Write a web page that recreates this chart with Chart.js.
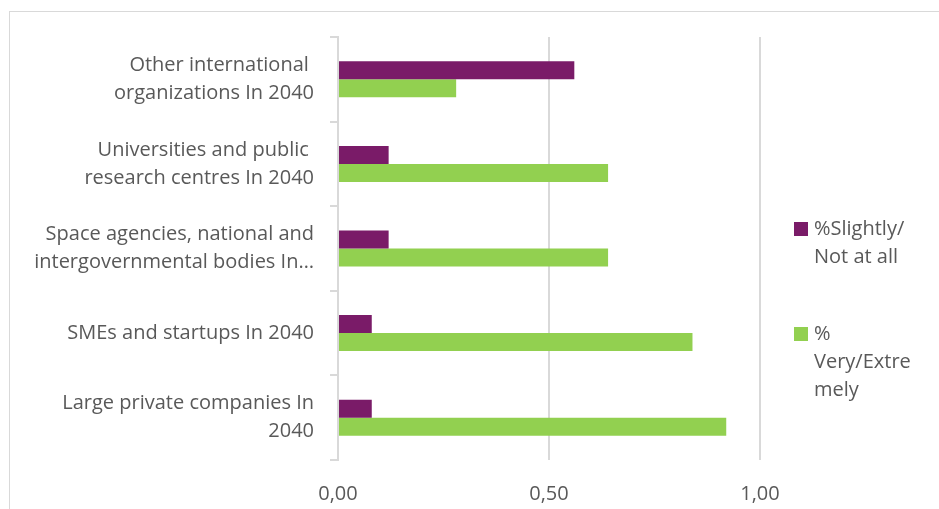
<!DOCTYPE html>
<html>
<head>
<meta charset="utf-8">
<script src="https://cdn.jsdelivr.net/npm/chart.js@4.4.1/dist/chart.umd.min.js"></script>
<style>
  html, body { margin: 0; padding: 0; background: #fff; }
  #wrap { position: relative; width: 939px; height: 509px; overflow: hidden; }
  #frame { position: absolute; left: 9px; top: 11px; width: 960px; height: 520px;
           border-top: 1px solid #d9d9d9; border-left: 1px solid #d9d9d9; }
  canvas { position: absolute; left: 0; top: 0; }
</style>
</head>
<body>
<div id="wrap">
  <div id="frame"></div>
  <canvas id="chart" width="939" height="509"></canvas>
</div>
<script>
const categories = [
  ["Other international ", "organizations In 2040"],
  ["Universities and public ", "research centres In 2040"],
  ["Space agencies, national and", "intergovernmental bodies In\u2026"],
  ["SMEs and startups In 2040"],
  ["Large private companies In", "2040"]
];
const slightlyNotAtAll = [0.56, 0.12, 0.12, 0.08, 0.08];
const veryExtremely = [0.28, 0.64, 0.64, 0.84, 0.92];
const seriesNames = [["%Slightly/", "Not at all"], ["%", "Very/Extre", "mely"]];
const xTicks = [0, 0.5, 1];

const textColor = "#595959";
const gridColor = "#d9d9d9";
const fontFamily = "'Open Sans', sans-serif";

// legend on the right, drawn on the canvas with wrapped lines
const sideLegend = {
  id: "sideLegend",
  afterDraw(chart) {
    const ctx = chart.ctx;
    const tops = [222, 327];
    ctx.save();
    ctx.font = "20px " + fontFamily;
    ctx.textBaseline = "middle";
    chart.data.datasets.forEach((ds, i) => {
      const top = tops[i];
      ctx.fillStyle = ds.backgroundColor;
      ctx.fillRect(794, top, 14, 14);
      ctx.fillStyle = textColor;
      seriesNames[i].forEach((line, j) => {
        ctx.fillText(line, 814, top + 7 + j * 28);
      });
    });
    ctx.restore();
  }
};

new Chart(document.getElementById("chart"), {
  type: "bar",
  data: {
    labels: categories,
    datasets: [
      { label: seriesNames[0].join(""), data: slightlyNotAtAll, backgroundColor: "#7a1b68" },
      { label: seriesNames[1].join(""), data: veryExtremely, backgroundColor: "#92d050" }
    ]
  },
  options: {
    indexAxis: "y",
    responsive: false,
    animation: false,
    layout: { padding: { top: 37, right: 179, left: 0, bottom: 0 } },
    datasets: { bar: { categoryPercentage: 0.425, barPercentage: 1.0 } },
    plugins: { legend: { display: false }, tooltip: { enabled: false } },
    scales: {
      x: {
        min: 0,
        max: 1,
        afterBuildTicks(scale) { scale.ticks = xTicks.map(v => ({ value: v })); },
        afterFit(scale) { scale.height = 49; },
        grid: { color: gridColor, lineWidth: 2, tickLength: 0 },
        border: { display: false },
        ticks: {
          padding: 22,
          color: textColor,
          font: { family: fontFamily, size: 20 },
          callback: v => v.toFixed(2).replace(".", ",")
        }
      },
      y: {
        afterFit(scale) {
          scale.width = 338;
          // labels sit mid-category, so no extra room is needed above or below
          scale.paddingTop = 0;
          scale.paddingBottom = 0;
        },
        grid: { color: gridColor, lineWidth: 2, drawOnChartArea: false, tickLength: 8 },
        border: { display: true, color: gridColor, width: 2 },
        ticks: {
          autoSkip: false,
          padding: 16,
          color: textColor,
          font: { family: fontFamily, size: 20, lineHeight: 1.4 }
        }
      }
    }
  },
  plugins: [sideLegend]
});
</script>
</body>
</html>
